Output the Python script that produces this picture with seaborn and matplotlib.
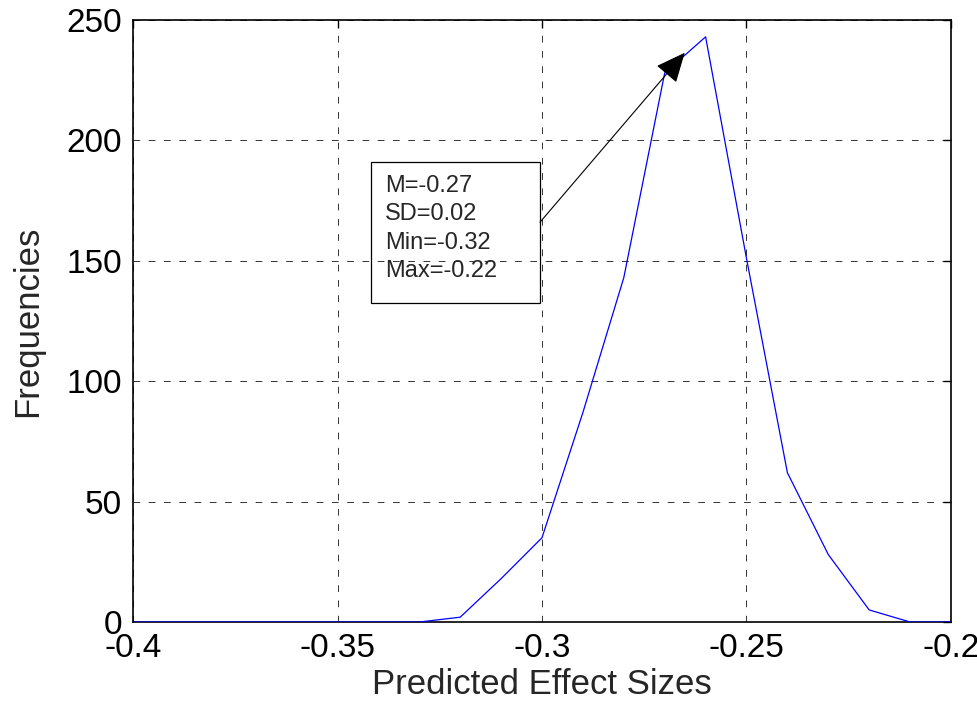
import matplotlib
matplotlib.use("Agg")
import matplotlib.pyplot as plt
import pandas as pd
import seaborn as sns
from matplotlib.patches import Rectangle

# -------------------------
# Data
# -------------------------
effect_sizes = [-0.40, -0.39, -0.38, -0.37, -0.36, -0.35, -0.34, -0.33,
                -0.32, -0.31, -0.30, -0.29, -0.28, -0.27, -0.26, -0.25,
                -0.24, -0.23, -0.22, -0.21, -0.20]
frequencies = [0, 0, 0, 0, 0, 0, 0, 0,
               2, 18, 35, 87, 143, 228, 243, 151,
               62, 28, 5, 0, 0]

x_ticks = [-0.4, -0.35, -0.3, -0.25, -0.2]
x_tick_labels = ["-0.4", "-0.35", "-0.3", "-0.25", "-0.2"]
y_ticks = [0, 50, 100, 150, 200, 250]

stats_lines = ["M=-0.27", "SD=0.02", "Min=-0.32", "Max=-0.22"]

# -------------------------
# Plot
# -------------------------
sns.set_style("white")
plt.rcParams["font.family"] = ["Liberation Sans", "DejaVu Sans"]

df = pd.DataFrame({"effect": effect_sizes, "freq": frequencies})

fig = plt.figure(figsize=(9.78, 7.02), dpi=100)
ax = fig.add_axes([133 / 978, 80 / 702, 818 / 978, 602 / 702])

sns.lineplot(data=df, x="effect", y="freq", color="#0000ff", lw=0.9,
             ax=ax, zorder=3)

ax.set_xlim(-0.4, -0.2)
ax.set_ylim(0, 250)
ax.set_xticks(x_ticks)
ax.set_xticklabels(x_tick_labels)
ax.set_yticks(y_ticks)

ax.grid(True, color="0.2", linestyle=(0, (6.9, 8.8)), lw=0.7)
ax.set_axisbelow(True)
ax.tick_params(direction="in", length=6, width=1, top=True, right=True,
               labelsize=24, pad=8, colors="black")
for s in ax.spines.values():
    s.set_color("black")
    s.set_linewidth(1.2)

ax.set_xlabel("Predicted Effect Sizes", fontsize=25, labelpad=3)
ax.set_ylabel("Frequencies", fontsize=25, labelpad=16)

# stats box with arrow to the peak
ax.add_patch(Rectangle((-0.3418, 132.6), 0.0413, 58.6, fill=False,
                       edgecolor="black", lw=0.9, zorder=2))
ax.text(-0.3383, 185.5, "\n".join(stats_lines), fontsize=17,
        va="top", ha="left", linespacing=1.36, zorder=4)
ax.annotate("", xy=(-0.2651, 236.4), xytext=(-0.3005, 166),
            arrowprops=dict(arrowstyle="-|>,head_length=0.85,head_width=0.38",
                            color="black", lw=0.8, shrinkA=0, shrinkB=0,
                            mutation_scale=22),
            zorder=5)

fig.savefig("out.png", dpi=100)
